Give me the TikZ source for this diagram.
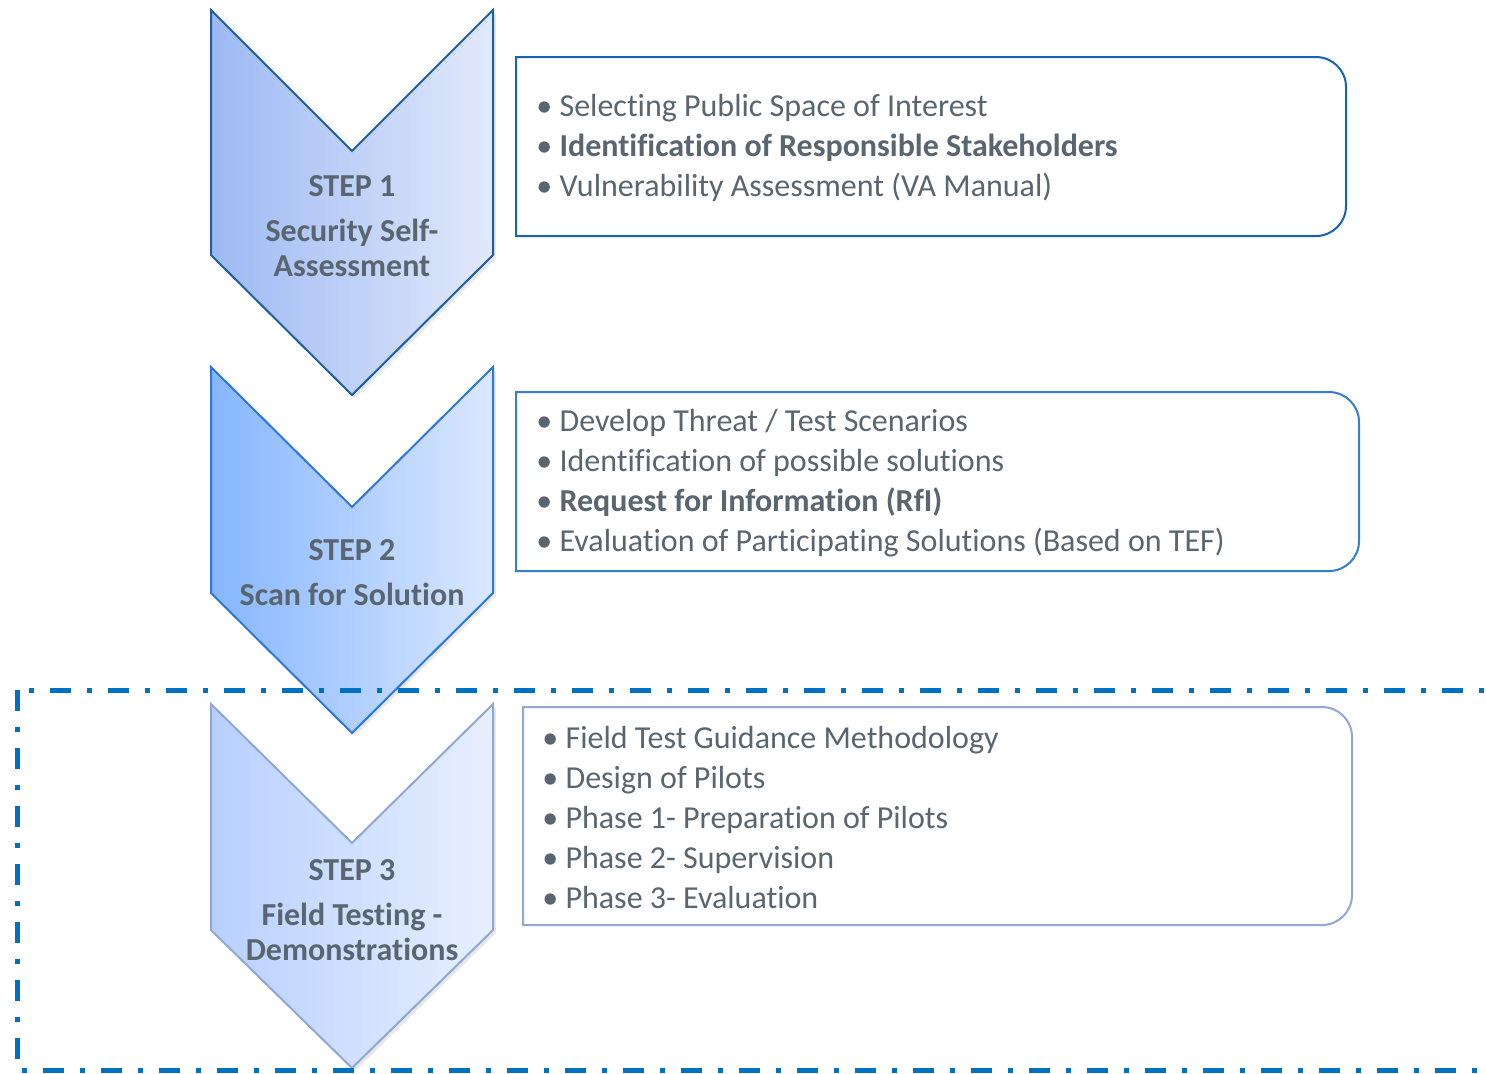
\documentclass[tikz,border=0pt]{standalone}
\usepackage{fontspec}
\setmainfont{Carlito}[Ligatures=NoCommon]
\usetikzlibrary{shadows}
\definecolor{stepgray}{RGB}{89,101,111}
\definecolor{frameblue}{RGB}{0,112,192}
\definecolor{chevonel}{RGB}{157,185,243}
\definecolor{chevoner}{RGB}{226,233,251}
\definecolor{chevoned}{RGB}{30,95,160}
\definecolor{chevtwol}{RGB}{134,182,255}
\definecolor{chevtwor}{RGB}{218,232,255}
\definecolor{chevtwod}{RGB}{45,120,215}
\definecolor{chevthreel}{RGB}{184,208,255}
\definecolor{chevthreer}{RGB}{232,239,255}
\definecolor{chevthreed}{RGB}{143,168,210}
\definecolor{boxone}{RGB}{20,100,180}
\definecolor{boxtwo}{RGB}{55,125,215}
\definecolor{boxthree}{RGB}{143,168,215}

\begin{document}
\begin{tikzpicture}[x=0.5pt,y=-0.5pt,
    chev/.style={line width=1pt, line join=miter, drop shadow={opacity=0.18, shadow xshift=1.5pt, shadow yshift=-1.5pt}},
    steplabel/.style={align=center, inner sep=0pt, text=stepgray, font=\fontsize{16}{17.5}\selectfont\bfseries},
    listbox/.style={line width=1pt, fill=white},
    listtext/.style={anchor=west, align=left, inner sep=0pt, text=stepgray, font=\fontsize{16}{20}\selectfont},
    frame/.style={line width=2.5pt, draw=frameblue, dash pattern=on 10.5pt off 8pt on 2.5pt off 8pt}]
    \clip (0,0) rectangle (1486,1073);

    % Step 1
    \path[chev, draw=chevoned, left color=chevonel, right color=chevoner]
        (211,10) -- (352,151) -- (493,10) -- (493,255) -- (352,395) -- (211,255) -- cycle;
    \node[steplabel] (step1) at (352,226) {STEP 1\\[5pt]Security Self-\\Assessment};

    % Step 2
    \path[chev, draw=chevtwod, left color=chevtwol, right color=chevtwor]
        (211,367) -- (352,507) -- (493,367) -- (493,593) -- (352,733) -- (211,593) -- cycle;
    \node[steplabel] (step2) at (352,573) {STEP 2\\[5pt]Scan for Solution};

    % Step 3
    \path[chev, draw=chevthreed, left color=chevthreel, right color=chevthreer]
        (211,704) -- (352,843) -- (493,704) -- (493,930) -- (352,1068) -- (211,930) -- cycle;
    \node[steplabel] (step3) at (352,910) {STEP 3\\[5pt]Field Testing -\\Demonstrations};

    % Field testing frame
    \draw[frame] (17,690) rectangle (1520,1070);

    % Box 1
    \draw[listbox, draw=boxone] (516,57) -- (1316,57) arc[start angle=90, end angle=0, radius=15pt]
        -- (1346,206) arc[start angle=0, end angle=-90, radius=15pt] -- (516,236) -- cycle;
    \node[listtext] (list1) at (536,148) {\textbullet{} Selecting Public Space of Interest\\
        \textbullet{} \textbf{Identification of Responsible Stakeholders}\\
        \textbullet{} Vulnerability Assessment (VA Manual)};

    % Box 2
    \draw[listbox, draw=boxtwo] (516,392) -- (1329,392) arc[start angle=90, end angle=0, radius=15pt]
        -- (1359,541) arc[start angle=0, end angle=-90, radius=15pt] -- (516,571) -- cycle;
    \node[listtext] (list2) at (536,483) {\textbullet{} Develop Threat / Test Scenarios\\
        \textbullet{} Identification of possible solutions\\
        \textbullet{} \textbf{Request for Information (RfI)}\\
        \textbullet{} Evaluation of Participating Solutions (Based on TEF)};

    % Box 3
    \draw[listbox, draw=boxthree] (523,707) -- (1322,707) arc[start angle=90, end angle=0, radius=15pt]
        -- (1352,895) arc[start angle=0, end angle=-90, radius=15pt] -- (523,925) -- cycle;
    \node[listtext] (list3) at (542,817) {\textbullet{} Field Test Guidance Methodology\\
        \textbullet{} Design of Pilots\\
        \textbullet{} Phase 1- Preparation of Pilots\\
        \textbullet{} Phase 2- Supervision\\
        \textbullet{} Phase 3- Evaluation};
\end{tikzpicture}
\end{document}
